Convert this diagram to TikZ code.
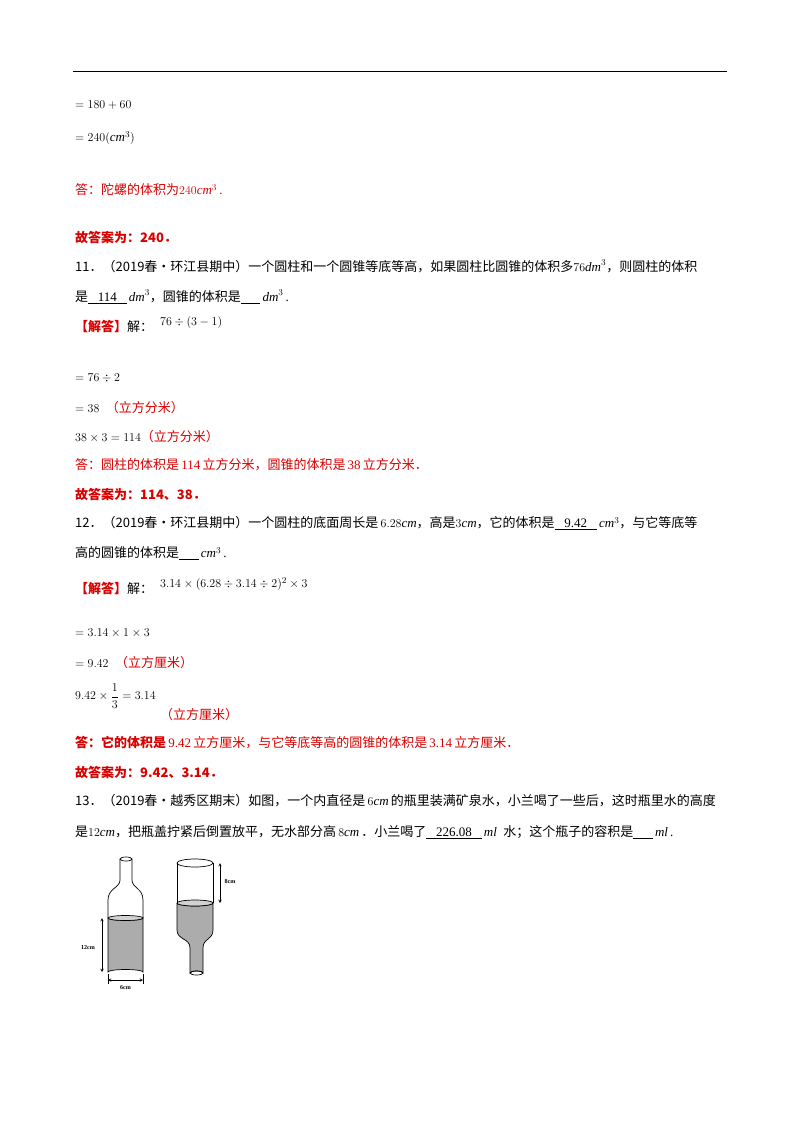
\documentclass[tikz,border=0pt]{standalone}
\usepackage{fontspec}
\setmainfont{Liberation Serif}
\newfontfamily\cjk{Noto Sans CJK SC}
\begin{document}
\begin{tikzpicture}[x=1pt,y=-1pt,
 t/.style={anchor=west,inner sep=0pt,font=\fontsize{13}{15}\selectfont},
 r/.style={t,text=red!85!black},
 lbl/.style={inner sep=0pt,font=\bfseries\fontsize{6}{7}\selectfont},
 water/.style={fill=gray!65,draw=black,line width=0.7pt},
 glass/.style={draw=black,line width=0.7pt},
 dim/.style={<->,>=stealth,line width=0.5pt}]
\useasboundingbox[fill=white] (0,0) rectangle (800,1132);
\draw[line width=0.6pt] (73,71) -- (727,71);
\node[t] (a1) at (75,105) {$=180+60$};
\node[t] (a2) at (75,138) {$=240(\mathit{cm}^3)$};
\node[r] (a3) at (75,190) {\cjk 答：陀螺的体积为\rm$240\mathit{cm}^3$\,.};
\node[r] (a4) at (75,237) {\cjk\bfseries 故答案为：240．};
\node[t] (q11) at (75,266) {\cjk 11．（2019春•环江县期中）一个圆柱和一个圆锥等底等高，如果圆柱比圆锥的体积多\rm$76\mathit{dm}^3$\cjk，则圆柱的体积};
\node[t] (q11b) at (75,297) {\cjk 是\rm\underline{\ \ \ 114\ \ \ }\,$\mathit{dm}^3$\cjk，圆锥的体积是\rm\underline{\ \ \ \ \ \ }\,$\mathit{dm}^3$\,.};
\node[r] (s11) at (75,327) {\cjk\bfseries 【解答】\mdseries\color{black}解：};
\node[t] (s11f) at (160,322) {$76\div(3-1)$};
\node[t] (b1) at (75,378) {$=76\div2$};
\node[t] (b2) at (75,408) {$=38$\ \ \color{red!85!black}\cjk（立方分米）};
\node[t] (b3) at (75,437) {$38\times3=114$\color{red!85!black}\cjk（立方分米）};
\node[r] (b4) at (75,465) {\cjk 答：圆柱的体积是\rm\,114\,\cjk 立方分米，圆锥的体积是\rm\,38\,\cjk 立方分米．};
\node[r] (b5) at (75,494) {\cjk\bfseries 故答案为：114、38．};
\node[t] (q12) at (75,523) {\cjk 12．（2019春•环江县期中）一个圆柱的底面周长是\rm\,$6.28\mathit{cm}$\cjk，高是\rm$3\mathit{cm}$\cjk，它的体积是\rm\underline{\ \ \ 9.42\ \ \ }\,$\mathit{cm}^3$\cjk，与它等底等};
\node[t] (q12b) at (75,553) {\cjk 高的圆锥的体积是\rm\underline{\ \ \ \ \ \ }\,$\mathit{cm}^3$\,.};
\node[r] (s12) at (75,589) {\cjk\bfseries 【解答】\mdseries\color{black}解：};
\node[t] (s12f) at (160,584) {$3.14\times(6.28\div3.14\div2)^2\times3$};
\node[t] (c1) at (75,633) {$=3.14\times1\times3$};
\node[t] (c2) at (75,663) {$=9.42$\ \ \color{red!85!black}\cjk（立方厘米）};
\node[t] (c3) at (75,696) {$9.42\times{\displaystyle\frac{1}{3}}=3.14$};
\node[r] (c3b) at (160,715) {\cjk（立方厘米）};
\node[r] (c4) at (75,743) {\cjk\bfseries 答：它的体积是\rm\,9.42\,\cjk 立方厘米，与它等底等高的圆锥的体积是\rm\,3.14\,\cjk 立方厘米．};
\node[r] (c5) at (75,772) {\cjk\bfseries 故答案为：9.42、3.14．};
\node[t] (q13) at (75,801) {\cjk 13．（2019春•越秀区期末）如图，一个内直径是\rm\,$6\mathit{cm}$\,\cjk 的瓶里装满矿泉水，小兰喝了一些后，这时瓶里水的高度};
\node[t] (q13b) at (75,832) {\cjk 是\rm$12\mathit{cm}$\cjk，把瓶盖拧紧后倒置放平，无水部分高\rm\,$8\mathit{cm}$\,\cjk．小兰喝了\rm\underline{\ \ \ 226.08\ \ \ }\,$\mathit{ml}$\ \ \cjk 水；这个瓶子的容积是\rm\underline{\ \ \ \ \ \ }\,$\mathit{ml}$\,.};
% left bottle
\draw[glass] (120,859) -- (120,880) .. controls (120,888) and (108,888) .. (108,900) -- (108,918);
\draw[glass] (132,859) -- (132,880) .. controls (132,888) and (143,888) .. (143,900) -- (143,918);
\draw[glass] (126,859) ellipse (6 and 2);
\draw[water] (108,918) -- (108,972) arc[start angle=180,end angle=360,x radius=17.5,y radius=2.5] -- (143,918) arc[start angle=0,end angle=180,x radius=17.5,y radius=2.5];
\draw[glass,fill=gray!35] (125.5,918) ellipse (17.5 and 2.5);
\draw[dim] (102,918) -- (102,972);
\node[lbl] (l12) at (88,948) {12cm};
\draw[line width=0.4pt] (108,974) -- (108,984) (143,974) -- (143,984);
\draw[dim] (108,980) -- (143,980);
\node[lbl] (l6) at (125.5,988) {6cm};
% right bottle
\draw[glass] (177,863) -- (177,903) (213,863) -- (213,903);
\draw[glass] (195,863) ellipse (18 and 4);
\draw[water] (177,903) -- (177,930) .. controls (177,940) and (190,938) .. (190,948) -- (190,973) arc[start angle=180,end angle=360,x radius=6.5,y radius=2] -- (203,948) .. controls (203,938) and (213,940) .. (213,930) -- (213,903) arc[start angle=0,end angle=180,x radius=18,y radius=3];
\draw[glass,fill=gray!35] (195,903) ellipse (18 and 3);
\draw[glass] (196.5,973) ellipse (6.5 and 2);
\draw[dim] (220,863) -- (220,903);
\node[lbl] (l8) at (230,882) {8cm};
\end{tikzpicture}
\end{document}
